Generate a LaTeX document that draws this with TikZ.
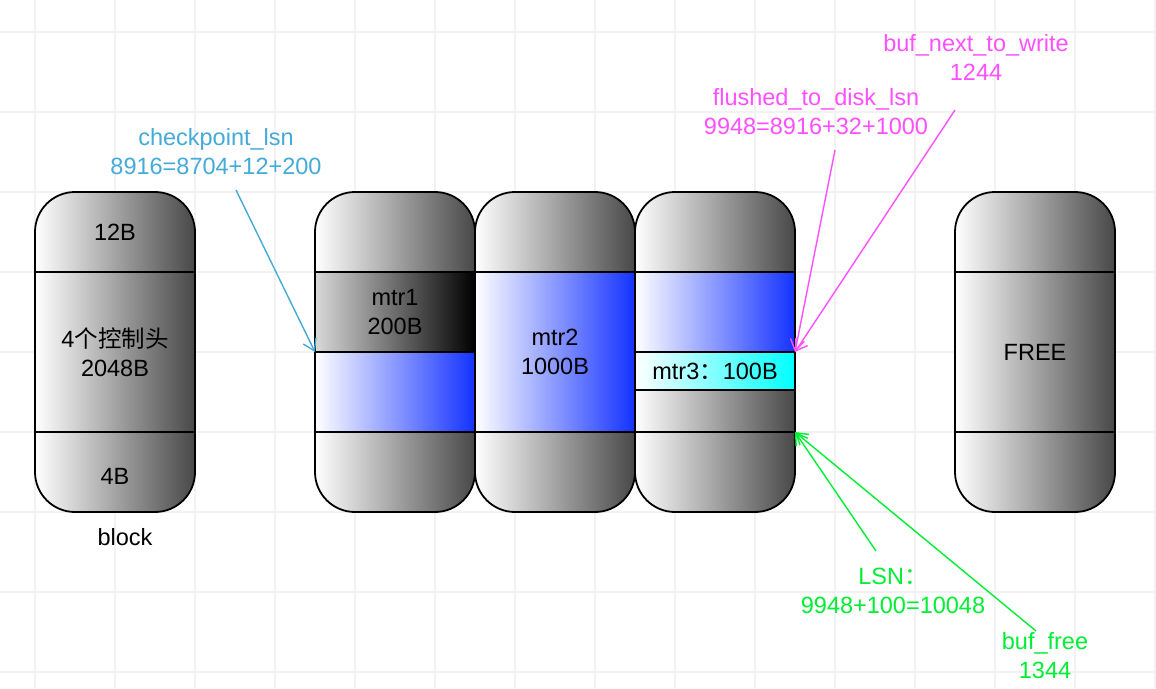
\documentclass[tikz,border=0pt]{standalone}
\usepackage{fontspec}
\setmainfont{Liberation Sans}
\newfontfamily\cjk{Noto Sans CJK SC}
\usepackage{xcolor}
\definecolor{loggray}{RGB}{72,72,72}
\definecolor{logblue}{RGB}{20,50,255}
\definecolor{logcyan}{RGB}{0,255,255}
\definecolor{ckptblue}{RGB}{68,170,216}
\definecolor{flushpink}{RGB}{255,80,255}
\definecolor{freegreen}{RGB}{0,238,51}
\definecolor{gridgray}{RGB}{242,242,242}
\usetikzlibrary{arrows.meta}

\begin{document}
\begin{tikzpicture}[x=1pt, y=-1pt, line join=round,
  lbl/.style={font=\fontsize{23.5}{29}\selectfont, align=center, inner sep=0pt},
  ptr/.style={-{Straight Barb[length=11pt, width=14pt]}, line width=1.4pt}]

% --- background grid ---
\useasboundingbox (0,0) rectangle (1156,688);
\fill[white] (0,0) rectangle (1156,688);
\foreach \gx in {35,115,...,1155} {
    \draw[gridgray, line width=1.5pt] (\gx,0) -- (\gx,688);
}
\foreach \gy in {32,112,...,672} {
    \draw[gridgray, line width=1.5pt] (0,\gy) -- (1156,\gy);
}

% --- block bodies ---
\foreach \bx in {35,315,475,635,955} {
    \shade[left color=white, right color=loggray, rounded corners=40pt] (\bx,192) rectangle ++(160,320);
}

% mtr rows
\shade[left color=white!85!black, right color=black] (315,272) rectangle (475,352);
\shade[left color=white, right color=logblue] (315,352) rectangle (475,432);
\shade[left color=white, right color=logblue] (475,272) rectangle (635,432);
\shade[left color=white, right color=logblue] (635,272) rectangle (795,352);
\shade[left color=white, right color=logcyan] (635,352) rectangle (795,390);

% row lines and outlines
\foreach \bx in {35,315,475,635,955} {
    \draw[line width=1.8pt] (\bx,272) -- ++(160,0);
    \draw[line width=1.8pt] (\bx,432) -- ++(160,0);
    \draw[line width=1.8pt, rounded corners=40pt] (\bx,192) rectangle ++(160,320);
}
\draw[line width=1.8pt] (315,352) -- (475,352);
\draw[line width=1.8pt] (635,352) -- (795,352);
\draw[line width=1.8pt] (635,390) -- (795,390);

% --- block texts ---
\node[lbl] (hdr-top) at (115,232) {12B};
\node[lbl] (hdr-ctl) at (115,352) {4{\cjk 个控制头}\\2048B};
\node[lbl] (hdr-tail) at (115,476) {4B};
\node[lbl] (blk-name) at (125,537) {block};
\node[lbl] (mtr1) at (395,312) {mtr1\\200B};
\node[lbl] (mtr2) at (555,352) {mtr2\\1000B};
\node[lbl] (mtr3) at (715,371) {mtr3{\cjk ：}100B};
\node[lbl] (free) at (1035,352) {FREE};

% --- pointer labels ---
\node[lbl, ckptblue] (ckpt-lbl) at (216,152) {checkpoint\_lsn\\8916=8704+12+200};
\node[lbl, flushpink] (flush-lbl) at (816,112) {flushed\_to\_disk\_lsn\\9948=8916+32+1000};
\node[lbl, flushpink] (next-lbl) at (976,57) {buf\_next\_to\_write\\1244};
\node[lbl, freegreen] (lsn-lbl) at (893,591) {LSN{\cjk ：}\\9948+100=10048};
\node[lbl, freegreen] (bfree-lbl) at (1045,656) {buf\_free\\1344};

% --- pointers ---
\coordinate (ckpt-from) at (236,190);
\coordinate (ckpt-to) at (315,352);
\coordinate (flush-from) at (835,150);
\coordinate (next-from) at (955,110);
\coordinate (flush-to) at (795,352);
\coordinate (lsn-from) at (876,551);
\coordinate (bfree-from) at (1036,631);
\coordinate (free-to) at (795,432);

\draw[ptr, ckptblue] (ckpt-from) -- (ckpt-to);
\draw[ptr, flushpink] (flush-from) -- (flush-to);
\draw[ptr, flushpink] (next-from) -- (flush-to);
\draw[ptr, freegreen] (lsn-from) -- (free-to);
\draw[ptr, freegreen] (bfree-from) -- (free-to);

\end{tikzpicture}
\end{document}
